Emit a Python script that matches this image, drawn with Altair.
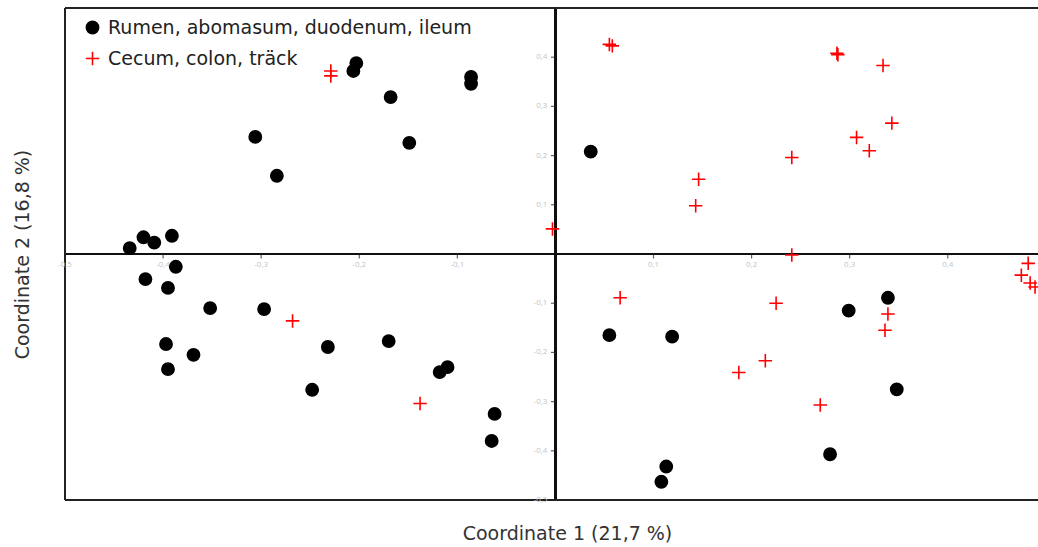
import altair as alt
import pandas as pd

# ---- data ----
g1_name = "Rumen, abomasum, duodenum, ileum"
g2_name = "Cecum, colon, träck"

g1_x = [-0.203, -0.206, -0.086, -0.086, -0.168, -0.306, -0.149, -0.284, -0.434, -0.420,
        -0.409, -0.391, -0.387, -0.418, -0.395, -0.352, -0.297, -0.397, -0.369, -0.395,
        -0.232, -0.170, -0.248, -0.110, -0.118, -0.062, -0.065, 0.036, 0.055, 0.119,
        0.299, 0.339, 0.348, 0.280, 0.113, 0.108]
g1_y = [0.388, 0.372, 0.360, 0.346, 0.319, 0.238, 0.226, 0.159, 0.012, 0.034,
        0.023, 0.037, -0.026, -0.051, -0.069, -0.110, -0.112, -0.183, -0.205, -0.234,
        -0.189, -0.177, -0.276, -0.230, -0.240, -0.325, -0.380, 0.208, -0.165, -0.168,
        -0.115, -0.089, -0.275, -0.407, -0.432, -0.463]

g2_x = [-0.229, -0.229, 0.055, 0.058, 0.287, 0.288, 0.334, 0.343, 0.307, 0.320,
        0.241, 0.146, 0.143, -0.003, 0.241, 0.482, 0.475, 0.484, 0.489, 0.066,
        0.225, 0.339, 0.336, 0.214, 0.187, 0.270, -0.268, -0.138]
g2_y = [0.372, 0.362, 0.426, 0.423, 0.408, 0.405, 0.383, 0.266, 0.237, 0.210,
        0.196, 0.152, 0.098, 0.051, -0.002, -0.019, -0.043, -0.059, -0.067, -0.089,
        -0.100, -0.122, -0.155, -0.217, -0.241, -0.307, -0.136, -0.304]

x_tick_vals = [-0.5, -0.4, -0.3, -0.2, -0.1, 0.1, 0.2, 0.3, 0.4]
x_tick_text = ["-0,5", "-0,4", "-0,3", "-0,2", "-0,1", "0,1", "0,2", "0,3", "0,4"]
y_tick_vals = [0.4, 0.3, 0.2, 0.1, -0.1, -0.2, -0.3, -0.4, -0.5]
y_tick_text = ["0,4", "0,3", "0,2", "0,1", "-0,1", "-0,2", "-0,3", "-0,4", "-0,5"]

x_title = "Coordinate 1 (21,7 %)"
y_title = "Coordinate 2 (16,8 %)"

# ---- tables ----
pts = pd.DataFrame({
    "x": g1_x + g2_x,
    "y": g1_y + g2_y,
    "group": [g1_name] * len(g1_x) + [g2_name] * len(g2_x),
})
xt = pd.DataFrame({"v": x_tick_vals, "t": x_tick_text})
yt = pd.DataFrame({"v": y_tick_vals, "t": y_tick_text})

FONT = "DejaVu Sans"
XMIN, XMAX = -0.5, 0.492
YMIN, YMAX = -0.5, 0.5
xs = alt.Scale(domain=[XMIN, XMAX], nice=False, zero=False)
ys = alt.Scale(domain=[YMIN, YMAX], nice=False, zero=False)

xax = alt.Axis(title=x_title, labels=False, ticks=False, domain=False, grid=False,
               titleFont=FONT, titleFontSize=19, titleFontWeight="normal",
               titleColor="#333333", titlePadding=24, titleX=502)
yax = alt.Axis(title=y_title, labels=False, ticks=False, domain=False, grid=False,
               titleFont=FONT, titleFontSize=19, titleFontWeight="normal",
               titleColor="#333333", titlePadding=33)

leg = alt.Legend(title=None, orient="none", legendX=18, legendY=10,
                 labelFont=FONT, labelFontSize=19, labelColor="#222222",
                 symbolSize=150, symbolStrokeWidth=1.6, rowPadding=10,
                 labelOffset=6, labelLimit=600)
dom = [g1_name, g2_name]

points = alt.Chart(pts).mark_point(size=150, strokeWidth=1.6, opacity=1, clip=True).encode(
    x=alt.X("x:Q", scale=xs, axis=xax),
    y=alt.Y("y:Q", scale=ys, axis=yax),
    shape=alt.Shape("group:N", scale=alt.Scale(domain=dom, range=["circle", "M-1.1,0H1.1M0,-1.1V1.1"]), legend=leg),
    fill=alt.Fill("group:N", scale=alt.Scale(domain=dom, range=["#000000", "transparent"]), legend=leg),
    stroke=alt.Stroke("group:N", scale=alt.Scale(domain=dom, range=["#000000", "#ff0000"]), legend=leg),
)

# zero axes
hzero = alt.Chart(pts).mark_rule(color="#111111", strokeWidth=1.6).encode(
    y=alt.YDatum(0, scale=ys, axis=yax))
vzero = alt.Chart(pts).mark_rule(color="#111111", strokeWidth=1.6).encode(
    x=alt.XDatum(0, scale=xs, axis=xax))

# frame (top, left, bottom)
top = alt.Chart(pts).mark_rule(color="#222222", strokeWidth=2).encode(
    y=alt.YDatum(YMAX, scale=ys, axis=yax))
bottom = alt.Chart(pts).mark_rule(color="#222222", strokeWidth=2).encode(
    y=alt.YDatum(YMIN, scale=ys, axis=yax))
left = alt.Chart(pts).mark_rule(color="#222222", strokeWidth=2).encode(
    x=alt.XDatum(XMIN, scale=xs, axis=xax))

# tick marks
xticks = alt.Chart(xt).mark_tick(orient="vertical", size=5, thickness=1.2, color="#222222", yOffset=2).encode(
    x=alt.X("v:Q", scale=xs, axis=xax), y=alt.YDatum(0, scale=ys, axis=yax))
yticks = alt.Chart(yt).mark_tick(orient="horizontal", size=5, thickness=1.2, color="#222222", xOffset=-2).encode(
    y=alt.Y("v:Q", scale=ys, axis=yax), x=alt.XDatum(0, scale=xs, axis=xax))

# tick labels
xlabels = alt.Chart(xt).mark_text(font="Open Sans", fontSize=8, color="#c4c4c4", dy=11, baseline="middle").encode(
    x=alt.X("v:Q", scale=xs, axis=xax), y=alt.YDatum(0, scale=ys, axis=yax), text="t:N")
ylabels = alt.Chart(yt).mark_text(font="Open Sans", fontSize=8, color="#c4c4c4", dx=-8, align="right", baseline="middle").encode(
    y=alt.Y("v:Q", scale=ys, axis=yax), x=alt.XDatum(0, scale=xs, axis=xax), text="t:N")

chart = alt.layer(
    hzero, vzero, top, bottom, left, xticks, yticks, xlabels, ylabels, points
).properties(
    width=973, height=492,
    padding={"left": 65, "top": 8, "right": 0, "bottom": 47},
    autosize=alt.AutoSizeParams(type="none"),
    background="white",
).configure_view(stroke=None)

chart.save("out.html", embed_options={"renderer": "svg", "actions": False})
